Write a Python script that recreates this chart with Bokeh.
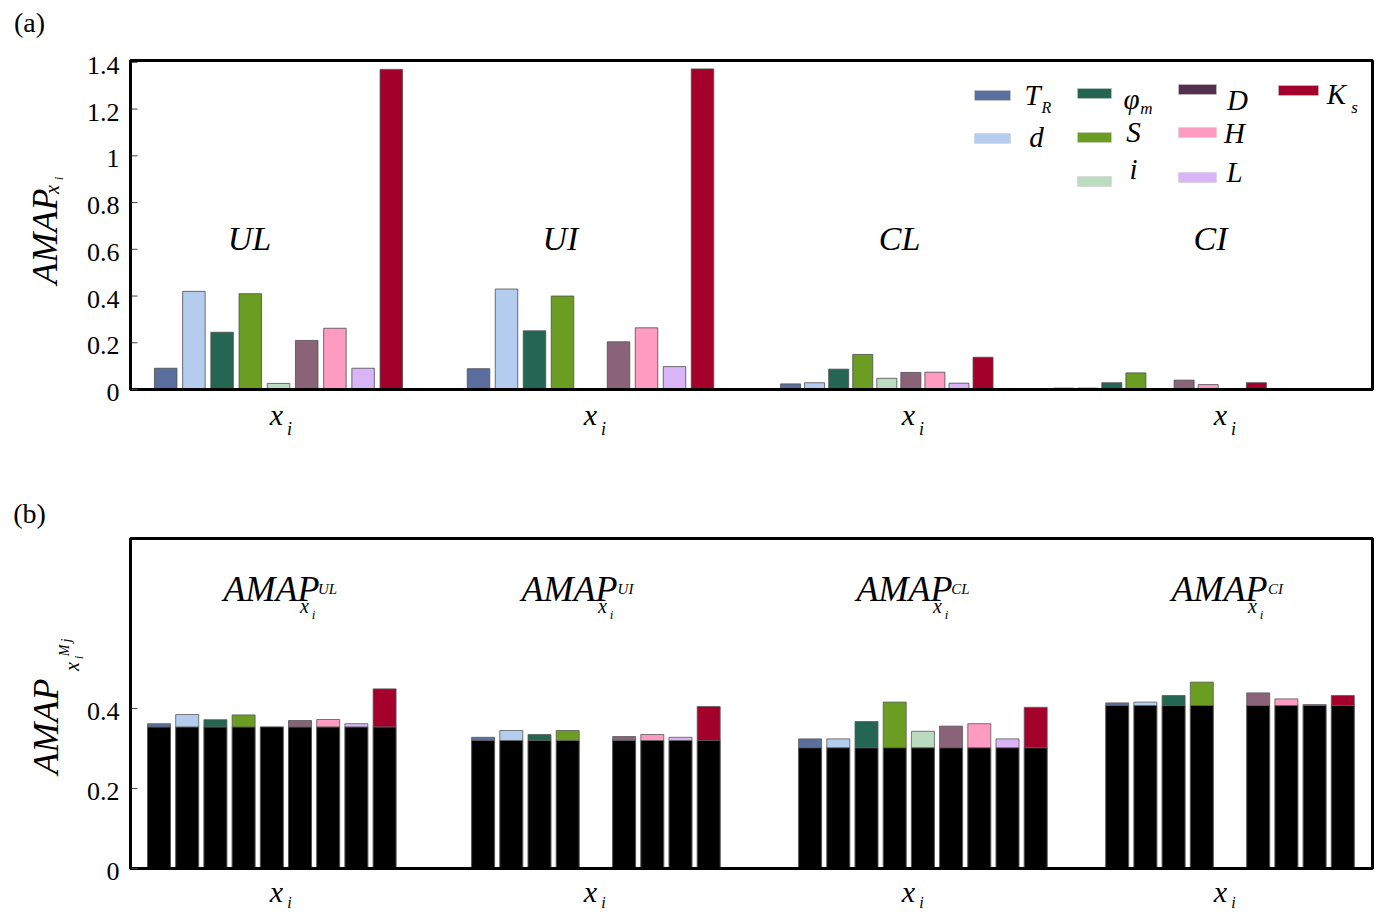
import math
from bokeh.plotting import figure
from bokeh.models import Range1d, Label
from bokeh.core.properties import value
from bokeh.layouts import column
from bokeh.embed import file_html
from bokeh.resources import INLINE

# ---------------- data ----------------
VARS = ["T_R", "d", "phi_m", "S", "i", "D", "H", "L", "K_s"]
COLORS = ["#5b6f9e", "#b4cdee", "#246651", "#6a9d21", "#bcdcc2",
          "#8a6378", "#ff9ac0", "#d9b4f6", "#a3002b"]
LEGEND_COLORS = ["#5b6f9e", "#b4cdee", "#246651", "#6a9d21", "#bcdcc2",
                 "#55314f", "#ff9ac0", "#d9b4f6", "#a3002b"]
GROUPS = ["UL", "UI", "CL", "CI"]

# panel (a): AMAP_xi per variable, per case
TOP_UL = [0.091, 0.420, 0.245, 0.410, 0.026, 0.210, 0.262, 0.091, 1.370]
TOP_UI = [0.089, 0.430, 0.251, 0.400, 0.0, 0.204, 0.264, 0.098, 1.372]
TOP_CL = [0.024, 0.029, 0.087, 0.150, 0.048, 0.073, 0.074, 0.027, 0.138]
TOP_CI = [0.006, 0.006, 0.029, 0.071, 0.0, 0.040, 0.021, 0.0, 0.029]
TOP_VALUES = [TOP_UL, TOP_UI, TOP_CL, TOP_CI]

# panel (b): black base per case and stacked total per variable
NAN = float("nan")
BASE = [0.354, 0.320, 0.302, 0.4075]
BOT_UL = [0.362, 0.385, 0.372, 0.384, 0.354, 0.370, 0.3725, 0.362, 0.449]
BOT_UI = [0.328, 0.345, 0.335, 0.345, NAN, 0.330, 0.335, 0.328, 0.405]
BOT_CL = [0.324, 0.324, 0.3675, 0.416, 0.343, 0.356, 0.362, 0.324, 0.403]
BOT_CI = [0.414, 0.416, 0.4325, 0.466, NAN, 0.439, 0.424, 0.410, 0.4325]
BOT_VALUES = [BOT_UL, BOT_UI, BOT_CL, BOT_CI]

TOP_TICKS = [0, 0.2, 0.4, 0.6, 0.8, 1, 1.2, 1.4]
TOP_TICK_LABELS = ["0", "0.2", "0.4", "0.6", "0.8", "1", "1.2", "1.4"]
BOT_TICKS = [0, 0.2, 0.4]
BOT_TICK_LABELS = ["0", "0.2", "0.4"]

# ---------------- layout ----------------
FONT = "'Liberation Serif', 'Times New Roman', serif"
FIG_W = 1376
FRAME_L, FRAME_R = 130, 1372
TOP_CANVAS = (0, 458)
BOT_CANVAS = (458, 912)
TOP_FT, TOP_ZERO = 60, 389
BOT_FT, BOT_ZERO = 538, 868
TOP_SCALE = 329 / 1.408   # px per unit
BOT_SCALE = 400.0

TOP_CENTERS = [278.0, 590.0, 886.3, 1159.5]
TOP_STEP = [28.2, 28.0, 24.06, 24.1]
TOP_W = [22.5, 22.5, 20.0, 20.0]
BOT_CENTERS = [271.3, 595.4, 922.4, 1229.5]
BOT_STEP = [28.2, 28.2, 28.2, 28.2]
BOT_W = 23.0


def make_panel(canvas, zero_py, scale):
    py0, py1 = canvas
    p = figure(width=FIG_W, height=py1 - py0, output_backend="svg",
               toolbar_location=None, x_axis_type=None, y_axis_type=None,
               x_range=Range1d(0, FIG_W),
               y_range=Range1d((zero_py - py1) / scale, (zero_py - py0) / scale),
               min_border_left=0, min_border_right=0,
               min_border_top=0, min_border_bottom=0)
    p.outline_line_color = None
    p.background_fill_color = "white"
    p.border_fill_color = "white"

    def conv(px, py):
        return px, (zero_py - py) / scale
    return p, conv


def add_text(p, conv, px, py, text, size, italic=True, angle=0.0,
             align="center", baseline="middle"):
    x, y = conv(px, py)
    p.add_layout(Label(x=x, y=y, text=text, text_font=FONT,
                       text_font_size=f"{size}px",
                       text_font_style="italic" if italic else "normal",
                       angle=angle, text_align=align, text_baseline=baseline,
                       text_color="black"))


def draw_frame(p, conv, frame_top_py, ticks, labels):
    _, ytop = conv(0, frame_top_py)
    p.quad(left=[FRAME_L], right=[FRAME_R], bottom=[0], top=[ytop],
           fill_color=None, line_color="black", line_width=3)
    p.segment(x0=[FRAME_L + 1] * len(ticks), x1=[FRAME_L + 7] * len(ticks),
              y0=ticks, y1=ticks, line_color="#444444", line_width=1)
    p.text(x=[FRAME_L - 11] * len(ticks), y=ticks, text=labels,
           text_font=value(FONT), text_font_size=value("26px"),
           text_align="right", text_baseline="middle", y_offset=3,
           text_color="black")


# ---------------- panel (a) ----------------
p1, c1 = make_panel(TOP_CANVAS, TOP_ZERO, TOP_SCALE)
xs, ws, tops, cols = [], [], [], []
for g, vals in enumerate(TOP_VALUES):
    for k, v in enumerate(vals):
        if v > 0:
            xs.append(TOP_CENTERS[g] + (k - 4) * TOP_STEP[g])
            ws.append(TOP_W[g])
            tops.append(v)
            cols.append(COLORS[k])
p1.vbar(x=xs, width=ws, top=tops, bottom=0, fill_color=cols,
        line_color="#4d4d4d", line_width=1, line_alpha=0.8)
draw_frame(p1, c1, TOP_FT, TOP_TICKS, TOP_TICK_LABELS)

for name, gx in zip(GROUPS, [249, 560, 899, 1210]):
    add_text(p1, c1, gx, 238, name, 34)

for gx in [276, 590, 908, 1220]:
    add_text(p1, c1, gx, 414, "x", 30)
    add_text(p1, c1, gx + 13, 428, "i", 18)

add_text(p1, c1, 44, 236, "AMAP", 36, angle=math.pi / 2)
add_text(p1, c1, 51, 189, "x", 20, angle=math.pi / 2)
add_text(p1, c1, 58, 178, "i", 13, angle=math.pi / 2)

add_text(p1, c1, 29, 22, "(a)", 28, italic=False)

# legend
LEG_SW = [(992, 95), (992, 138), (1094, 93), (1094, 137), (1094, 181),
          (1197, 89), (1197, 132), (1197, 177), (1298, 90)]
LEG_SW_W = [36, 36, 34, 34, 34, 38, 38, 38, 40]
sw_x = [c1(sx, sy)[0] for sx, sy in LEG_SW]
sw_y = [c1(sx, sy)[1] for sx, sy in LEG_SW]
p1.rect(x=sw_x, y=sw_y, width=LEG_SW_W, height=10 / TOP_SCALE,
        fill_color=LEGEND_COLORS, line_color="#cccccc", line_width=0.5)

add_text(p1, c1, 1032, 94, "T", 29)
add_text(p1, c1, 1046, 107, "R", 16)
add_text(p1, c1, 1036, 136, "d", 29)
add_text(p1, c1, 1131, 98, "φ", 29)
add_text(p1, c1, 1146, 108, "m", 17)
add_text(p1, c1, 1133, 131, "S", 29)
add_text(p1, c1, 1133, 168, "i", 29)
add_text(p1, c1, 1237, 99, "D", 29)
add_text(p1, c1, 1234, 132, "H", 29)
add_text(p1, c1, 1234, 171, "L", 29)
add_text(p1, c1, 1336, 93, "K", 29)
add_text(p1, c1, 1354, 107, "s", 17)

# ---------------- panel (b) ----------------
p2, c2 = make_panel(BOT_CANVAS, BOT_ZERO, BOT_SCALE)
bx, bt, sx_, sb, st, sc = [], [], [], [], [], []
for g, vals in enumerate(BOT_VALUES):
    for k, v in enumerate(vals):
        if math.isnan(v):
            continue
        x = BOT_CENTERS[g] + (k - 4) * BOT_STEP[g]
        bx.append(x)
        bt.append(BASE[g])
        if v > BASE[g] + 1e-9:
            sx_.append(x)
            sb.append(BASE[g])
            st.append(v)
            sc.append(COLORS[k])
p2.vbar(x=bx, width=BOT_W, top=bt, bottom=0, fill_color="black",
        line_color="#555555", line_width=1)
p2.vbar(x=sx_, width=BOT_W, top=st, bottom=sb, fill_color=sc,
        line_color="#5a5a5a", line_width=1, line_alpha=0.8)
draw_frame(p2, c2, BOT_FT, BOT_TICKS, BOT_TICK_LABELS)

for name, gx in zip(GROUPS, [271, 569, 904, 1219]):
    add_text(p2, c2, gx, 588, "AMAP", 36)
    add_text(p2, c2, gx + 33, 605, "x", 20)
    add_text(p2, c2, gx + 42, 614, "i", 13)
    add_text(p2, c2, gx + 56, 588, name, 15)

for gx in [276, 590, 908, 1220]:
    add_text(p2, c2, gx, 891, "x", 30)
    add_text(p2, c2, gx + 13, 902, "i", 16)

add_text(p2, c2, 45, 726, "AMAP", 36, angle=math.pi / 2)
add_text(p2, c2, 71, 666, "x", 20, angle=math.pi / 2)
add_text(p2, c2, 78, 657, "i", 13, angle=math.pi / 2)
add_text(p2, c2, 64, 650, "M", 14, angle=math.pi / 2)
add_text(p2, c2, 66, 640, "j", 14, angle=math.pi / 2)

add_text(p2, c2, 29, 513, "(b)", 28, italic=False)

layout = column(p1, p2)
open("out.html", "w").write(file_html(layout, INLINE))
